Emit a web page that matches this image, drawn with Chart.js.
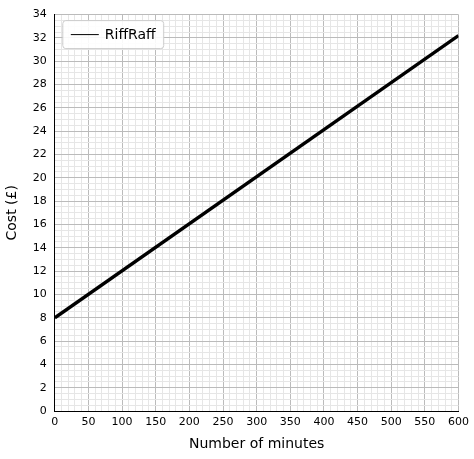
<!DOCTYPE html>
<html>
<head>
<meta charset="utf-8">
<script src="https://cdn.jsdelivr.net/npm/chart.js@4"></script>
<style>
  html, body { margin: 0; padding: 0; background: #fff; }
  #wrap { width: 474px; height: 459px; }
</style>
</head>
<body>
<div id="wrap"><canvas id="costChart"></canvas></div>
<script>
const seriesName = 'RiffRaff';
const minutes = [0, 600];
const cost = [8, 32.2];

const ctx = document.getElementById('costChart').getContext('2d');

// legend drawn inside the plot, top-left
const insideLegend = {
    id: 'insideLegend',
    afterDraw(chart) {
        const { ctx, chartArea } = chart;
        const x = chartArea.left + 8, y = chartArea.top + 6;
        ctx.save();
        ctx.font = '14px "DejaVu Sans"';
        const w = ctx.measureText(seriesName).width + 50;
        ctx.fillStyle = 'rgba(255,255,255,0.9)';
        ctx.strokeStyle = '#ccc';
        ctx.lineWidth = 1;
        ctx.beginPath();
        ctx.roundRect(x, y, w, 28, 3);
        ctx.fill();
        ctx.stroke();
        ctx.strokeStyle = '#000';
        ctx.beginPath();
        ctx.moveTo(x + 8, y + 14);
        ctx.lineTo(x + 36, y + 14);
        ctx.stroke();
        ctx.fillStyle = '#000';
        ctx.textBaseline = 'middle';
        ctx.fillText(seriesName, x + 42, y + 15);
        ctx.restore();
    }
};

new Chart(ctx, {
    type: 'scatter',
    data: {
        datasets: [{
            label: seriesName,
            data: minutes.map((m, i) => ({ x: m, y: cost[i] })),
            showLine: true,
            borderColor: '#000',
            borderWidth: 3.5,
            pointRadius: 0
        }]
    },
    options: {
        responsive: true,
        maintainAspectRatio: false,
        animation: false,
        layout: { padding: { top: 12, right: 10, bottom: 2 } },
        plugins: { legend: { display: false }, tooltip: { enabled: false } },
        scales: {
            x: {
                min: 0, max: 600,
                ticks: {
                    stepSize: 10, autoSkip: false, maxRotation: 0, padding: 5,
                    color: '#000', font: { family: 'DejaVu Sans', size: 11 },
                    callback: v => v % 50 === 0 ? v : ''
                },
                grid: {
                    color: c => c.tick && c.tick.value % 50 === 0 ? '#bbb' : '#e6e6e6',
                    drawTicks: false
                },
                border: { color: '#000' },
                title: { display: true, text: 'Number of minutes', color: '#000', padding: { top: 2 }, font: { family: 'DejaVu Sans', size: 14 } }
            },
            y: {
                min: 0, max: 34,
                ticks: {
                    stepSize: 0.5, autoSkip: false, padding: 8,
                    color: '#000', font: { family: 'DejaVu Sans', size: 11 },
                    callback: v => v % 2 === 0 ? v : ''
                },
                grid: {
                    color: c => c.tick && c.tick.value % 2 === 0 ? '#bbb' : '#e6e6e6',
                    drawTicks: false
                },
                border: { color: '#000' },
                title: { display: true, text: 'Cost (£)', color: '#000', font: { family: 'DejaVu Sans', size: 14 } }
            }
        }
    },
    plugins: [insideLegend]
});
</script>
</body>
</html>
